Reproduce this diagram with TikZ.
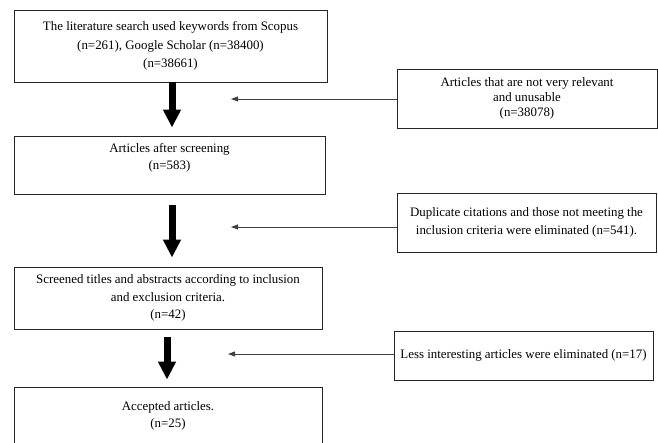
\documentclass[tikz,border=0pt]{standalone}
\usepackage{fontspec}
\setmainfont{Liberation Serif}
\usetikzlibrary{arrows.meta}
\begin{document}
\begin{tikzpicture}[x=1pt,y=-1pt,
  box/.style={draw=black!85,line width=0.9pt,rectangle,inner sep=0pt,align=center,
    font=\fontsize{12.9}{17.5}\selectfont},
  bigarrow/.style={line width=7pt,-{Triangle[width=17pt,length=18pt]}},
  thinarrow/.style={draw=black!75,line width=0.8pt,-{Triangle[width=5pt,length=7pt]}}]
\useasboundingbox (0,0) rectangle (658,442);
\node[box,minimum width=313pt,minimum height=72pt,font=\fontsize{12.9}{18.5}\selectfont] (b1) at (170.5,46)
  {The literature search used keywords from Scopus\\(n=261), Google Scholar (n=38400)\\(n=38661)};
\node[box,minimum width=311pt,minimum height=58pt] (b2) at (169.5,165)
  {Articles after screening\\(n=583)\\[0pt]};
\node[box,minimum width=308pt,minimum height=62pt] (b3) at (168,298)
  {Screened titles and abstracts according to inclusion\\and exclusion criteria.\\(n=42)};
\node[box,minimum width=308pt,minimum height=58pt] (b4) at (168,416)
  {Accepted articles.\\(n=25)};
\node[box,minimum width=260pt,minimum height=59pt,font=\fontsize{12.9}{15}\selectfont] (r1) at (527,98.5)
  {Articles that are not very relevant\\and unusable\\(n=38078)};
\node[box,minimum width=259pt,minimum height=59pt,font=\fontsize{12.9}{18}\selectfont] (r2) at (526.5,222.5)
  {Duplicate citations and those not meeting the\\inclusion criteria were eliminated (n=541).};
\node[box,minimum width=259pt,minimum height=49pt] (r3) at (523.5,355.5)
  {Less interesting articles were eliminated (n=17)};
\coordinate (t1) at (231,99);
\coordinate (t2) at (231,227);
\coordinate (t3) at (228,354);
\draw[bigarrow] ([xshift=1.5pt]b1.south) -- ([xshift=1.5pt,yshift=8pt]b1.south |- b2.north);
\draw[bigarrow] ([xshift=2.5pt,yshift=-11pt]b2.south) -- ([xshift=2.5pt,yshift=9pt]b2.south |- b3.north);
\draw[bigarrow] ([xshift=-1pt,yshift=-8pt]b3.south) -- ([xshift=-1pt,yshift=7pt]b3.south |- b4.north);
\draw[thinarrow] (r1.west |- t1) -- (t1);
\draw[thinarrow] (r2.west |- t2) -- (t2);
\draw[thinarrow] (r3.west |- t3) -- (t3);
\end{tikzpicture}
\end{document}
